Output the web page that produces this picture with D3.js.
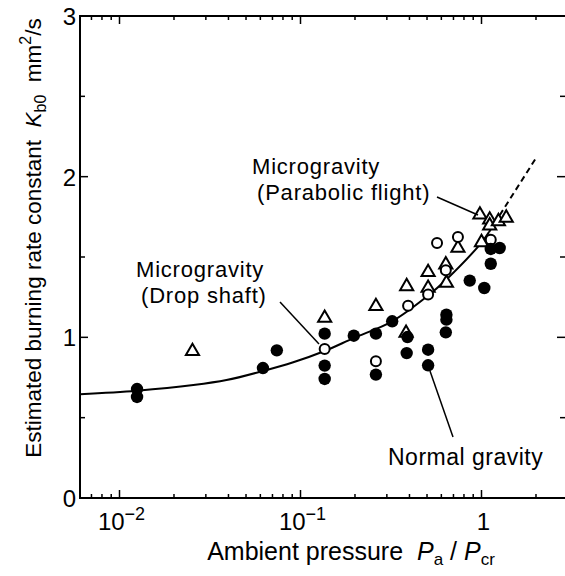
<!DOCTYPE html>
<html>
<head>
<meta charset="utf-8">
<script src="https://cdn.jsdelivr.net/npm/d3@7/dist/d3.min.js"></script>
<style>
	body { margin: 0; background: #fff; }
	text { font-family: 'Liberation Sans', Arial, sans-serif; fill: #000; white-space: pre; }
</style>
</head>
<body>
<div id="chart"></div>
<script>
// normal gravity (filled circles)
const normalX = [0.0125, 0.0125, 0.062, 0.074, 0.136, 0.136, 0.136, 0.197, 0.261, 0.261, 0.321, 0.39, 0.386, 0.507, 0.507, 0.64, 0.64, 0.635, 0.861, 1.036, 1.125, 1.125, 1.26]
const normalY = [0.678, 0.629, 0.809, 0.919, 1.023, 0.824, 0.741, 1.01, 1.023, 0.768, 1.1, 1.002, 0.902, 0.923, 0.826, 1.141, 1.11, 1.031, 1.353, 1.307, 1.458, 1.55, 1.556]
// drop shaft (open circles)
const dropX = [0.136, 0.261, 0.393, 0.507, 0.568, 0.635, 0.741, 1.125]
const dropY = [0.927, 0.851, 1.197, 1.266, 1.587, 1.417, 1.624, 1.608]
// parabolic flight (triangles)
const flightX = [0.0253, 0.136, 0.261, 0.386, 0.383, 0.507, 0.507, 0.64, 0.635, 0.741, 0.98, 1.0, 1.11, 1.11, 1.24, 1.37]
const flightY = [0.913, 1.12, 1.193, 1.317, 1.027, 1.405, 1.307, 1.338, 1.452, 1.556, 1.763, 1.591, 1.732, 1.695, 1.722, 1.743]
// fitted curve, solid and extrapolated (dashed)
const curveX = [0.006, 0.0125, 0.0256, 0.039, 0.0618, 0.0912, 0.136, 0.196, 0.321, 0.507, 0.64, 1.0, 1.1]
const curveY = [0.646, 0.668, 0.703, 0.734, 0.79, 0.845, 0.915, 0.995, 1.1, 1.26, 1.36, 1.59, 1.655]
const dashX = [1.1, 2.0]
const dashY = [1.655, 2.116]

const xMajor = [0.01, 0.1, 1]
const xMinor = [0.007, 0.008, 0.009, 0.02, 0.03, 0.04, 0.05, 0.06, 0.07, 0.08, 0.09, 0.2, 0.3, 0.4, 0.5, 0.6, 0.7, 0.8, 0.9, 2]
const yMajor = [0, 1, 2, 3]
const yMinor = [0.5, 1.5, 2.5]

const fullWidth = 565
const fullHeight = 576
const frame = {left: 80, right: 565, top: 16, bottom: 498}

const x = d3.scaleLog().domain([0.01, 1]).range([119.5, 481.5])
const y = d3.scaleLinear().domain([0, 3]).range([frame.bottom, frame.top])

const svg = d3
	.select('#chart')
	.append('svg')
	.attr('width', fullWidth)
	.attr('height', fullHeight)
	.attr('style', 'display: block')

const zip = (xs, ys) => xs.map((v, i) => ({x: v, y: ys[i]}))

// frame
const axisG = svg.append('g').attr('stroke', '#000').attr('fill', 'none')
axisG
	.append('path')
	.attr('stroke-width', 2)
	.attr('d', `M${frame.right + 2},${frame.top}H${frame.left}V${frame.bottom}H${frame.right + 2}`)

function xTicks(values, len) {
	values.forEach((v) => {
		const px = x(v)
		axisG.append('line').attr('x1', px).attr('x2', px).attr('y1', frame.bottom).attr('y2', frame.bottom - len).attr('stroke-width', 1.5)
		axisG.append('line').attr('x1', px).attr('x2', px).attr('y1', frame.top).attr('y2', frame.top + len).attr('stroke-width', 1.5)
	})
}
function yTicks(values, len) {
	values.forEach((v) => {
		const py = y(v)
		axisG.append('line').attr('x1', frame.left).attr('x2', frame.left + len).attr('y1', py).attr('y2', py).attr('stroke-width', 1.5)
		axisG.append('line').attr('x1', frame.right).attr('x2', frame.right - len).attr('y1', py).attr('y2', py).attr('stroke-width', 1.5)
	})
}
xTicks(xMajor, 8)
xTicks(xMinor, 4)
yTicks(yMajor, 8)
yTicks(yMinor, 5)

// tick labels
const xLab = svg.append('g').attr('font-size', 24).attr('text-anchor', 'middle')
xMajor.forEach((v) => {
	const t = xLab.append('text').attr('x', x(v) + 2).attr('y', 530)
	if (v === 1) t.text('1')
	else {
		t.append('tspan').text('10')
		t.append('tspan').attr('dy', -10).attr('font-size', 18).text('\u2212' + -Math.round(Math.log10(v)))
	}
})
svg
	.append('g')
	.attr('font-size', 24)
	.attr('text-anchor', 'end')
	.selectAll('text')
	.data(yMajor)
	.join('text')
	.attr('x', 76)
	.attr('y', (d) => y(d) + 9)
	.text((d) => d)

// axis titles
const xt = svg.append('text').attr('x', 351).attr('y', 560).attr('font-size', 25).attr('text-anchor', 'middle')
xt.append('tspan').text('Ambient pressure  ')
xt.append('tspan').attr('font-style', 'italic').text('P')
xt.append('tspan').attr('font-size', 17).attr('dy', 5).text('a')
xt.append('tspan').attr('dy', -5).text(' / ')
xt.append('tspan').attr('font-style', 'italic').text('P')
xt.append('tspan').attr('font-size', 17).attr('dy', 5).text('cr')

const yt = svg.append('text').attr('transform', 'translate(41,238) rotate(-90)').attr('font-size', 22.5).attr('text-anchor', 'middle')
yt.append('tspan').text('Estimated burning rate constant  ')
yt.append('tspan').attr('font-style', 'italic').text('K')
yt.append('tspan').attr('font-size', 16).attr('dy', 5).text('b0')
yt.append('tspan').attr('dy', -5).text('  mm')
yt.append('tspan').attr('font-size', 16).attr('dy', -10).text('2')
yt.append('tspan').attr('dy', 10).text('/s')

// curve
const line = d3.line().x((d) => x(d.x)).y((d) => y(d.y)).curve(d3.curveCatmullRom)
svg.append('clipPath').attr('id', 'plotClip').append('rect')
	.attr('x', frame.left).attr('y', frame.top).attr('width', frame.right - frame.left).attr('height', frame.bottom - frame.top)
svg.append('path').attr('clip-path', 'url(#plotClip)').attr('d', line(zip(curveX, curveY))).attr('fill', 'none').attr('stroke', '#000').attr('stroke-width', 2)
svg.append('path').attr('d', line(zip(dashX, dashY))).attr('fill', 'none').attr('stroke', '#000').attr('stroke-width', 2).attr('stroke-dasharray', '6,4')

// markers
const marks = svg.append('g')
marks.selectAll('.tri').data(zip(flightX, flightY)).join('path')
	.attr('d', d3.symbol(d3.symbolTriangle, 75))
	.attr('transform', (d) => `translate(${x(d.x)},${y(d.y)})`)
	.attr('fill', '#fff').attr('stroke', '#000').attr('stroke-width', 2)
marks.selectAll('.open').data(zip(dropX, dropY)).join('circle')
	.attr('cx', (d) => x(d.x)).attr('cy', (d) => y(d.y)).attr('r', 5)
	.attr('fill', '#fff').attr('stroke', '#000').attr('stroke-width', 2)
marks.selectAll('.fill').data(zip(normalX, normalY)).join('circle')
	.attr('cx', (d) => x(d.x)).attr('cy', (d) => y(d.y)).attr('r', 6.2)
	.attr('fill', '#000')

// annotations
const ann = svg.append('g').attr('font-size', 22).attr('letter-spacing', 0.8)
ann.append('text').attr('x', 252).attr('y', 174).text('Microgravity')
ann.append('text').attr('x', 257).attr('y', 200).text('(Parabolic flight)')
ann.append('text').attr('x', 136).attr('y', 277).text('Microgravity')
ann.append('text').attr('x', 141).attr('y', 303).text('(Drop shaft)')
ann.append('text').attr('x', 388).attr('y', 465).attr('font-size', 23).attr('letter-spacing', 0.5).text('Normal gravity')
const lead = svg.append('g').attr('stroke', '#000').attr('stroke-width', 1.5)
lead.append('line').attr('x1', 437).attr('y1', 197).attr('x2', 478).attr('y2', 215)
lead.append('line').attr('x1', 280).attr('y1', 302).attr('x2', 319).attr('y2', 344)
lead.append('line').attr('x1', 430).attr('y1', 371).attr('x2', 453).attr('y2', 437)
</script>
</body>
</html>
